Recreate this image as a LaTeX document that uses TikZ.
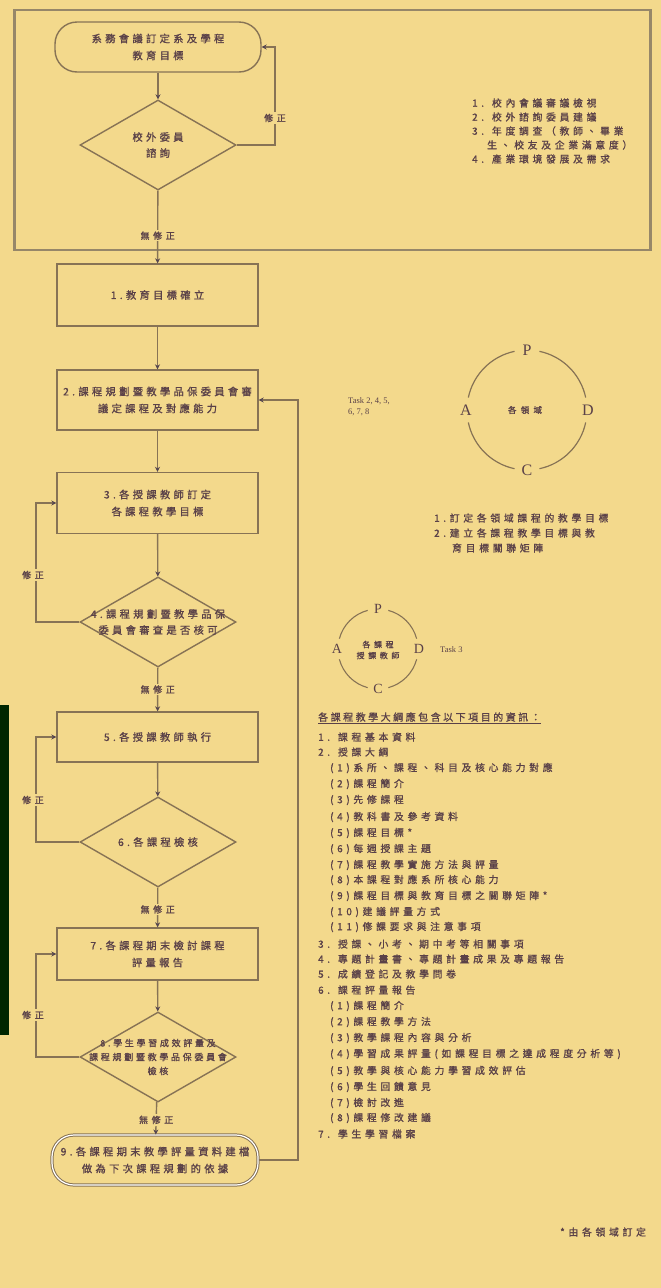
\documentclass[tikz,border=0pt]{standalone}
\usepackage{fontspec}
\setmainfont{Noto Sans CJK TC}
\newfontfamily\latinserif{Liberation Serif}
\usetikzlibrary{shapes.geometric,arrows.meta,calc}
\definecolor{bgc}{RGB}{243,217,140}
\definecolor{linec}{RGB}{135,115,85}
\definecolor{framec}{RGB}{150,135,105}
\definecolor{txtc}{RGB}{90,65,72}
\definecolor{arrc}{RGB}{85,70,80}
\newcommand{\lsp}[1]{\addfontfeatures{LetterSpace=#1,FakeBold=1.2}}
\begin{document}
\begin{tikzpicture}[x=1pt,y=-1pt,
  every node/.style={text=txtc},
  ffont/.style={font=\fontsize{10.3}{17}\selectfont\lsp{32}},
  proc/.style={draw=linec,line width=1.4pt,rectangle,minimum width=201pt,align=center,inner sep=2pt,ffont},
  term/.style={draw=linec,line width=1.4pt,rectangle,rounded corners=22pt,minimum width=206pt,minimum height=50pt,align=center,ffont},
  deci/.style={draw=linec,line width=1.4pt,diamond,minimum width=156pt,minimum height=90pt,inner sep=0pt},
  dtext/.style={align=center,font=\fontsize{10.3}{16}\selectfont\lsp{32}},
  arr/.style={draw=linec,line width=1.4pt,-{Stealth[length=5pt,width=5pt,color=arrc]}},
  conn/.style={draw=linec,line width=1.4pt},
  lbl/.style={fill=bgc,inner sep=1.5pt,font=\fontsize{9}{10}\selectfont\lsp{40}},
  rtxt/.style={anchor=west,inner sep=0pt,font=\fontsize{9.8}{12}\selectfont\lsp{38}},
  stxt/.style={anchor=west,inner sep=0pt,font=\fontsize{9.8}{14}\selectfont\lsp{38}},
  pdca/.style={font=\latinserif\fontsize{16}{16}\selectfont,text=txtc,inner sep=1pt},
  pdcas/.style={font=\latinserif\fontsize{14}{14}\selectfont,text=txtc,inner sep=1pt}
]
\useasboundingbox (0,0) rectangle (661,1288);
\fill[bgc] (0,0) rectangle (661,1288);
% dark strip at left edge
\fill[black!75!green!60!black] (0,705) rectangle (9,1035);
% outer frame
\node[draw=framec,line width=2.2pt,minimum width=636pt,minimum height=240pt,inner sep=0pt] (frame) at (332.5,130) {};

% top part
\node[term] (t0) at (158,47) {系務會議訂定系及學程\\教育目標};
\node[deci] (d0) at (158,145) {};
\node[dtext] (d0t) at (158,145) {校外委員\\諮詢};
\coordinate (lp0) at (275,0);
\draw[arr] (t0) -- (d0);
\draw[arr] (d0.east) -- (d0.east -| lp0) |- (t0.east);
\node[lbl] (m0) at (275,118) {修正};

\node[rtxt] (r1) at (472,103) {1. 校內會議審議檢視};
\node[rtxt] (r2) at (472,117) {2. 校外諮詢委員建議};
\node[rtxt] (r3) at (472,131) {3. 年度調查（教師、畢業};
\node[rtxt] (r4) at (487,145) {生、校友及企業滿意度）};
\node[rtxt] (r5) at (472,159) {4. 產業環境發展及需求};

% main flow
\node[proc,minimum height=62pt] (b1) at (157.5,295) {1.教育目標確立};
\node[proc,minimum height=60pt] (b2) at (157.5,400) {2.課程規劃暨教學品保委員會審\\議定課程及對應能力};
\node[proc,minimum height=61pt] (b3) at (157.5,503) {3.各授課教師訂定\\各課程教學目標};
\node[deci] (d4) at (158,622) {};
\node[dtext] (d4t) at (158,622) {4.課程規劃暨教學品保\\委員會審查是否核可};
\node[proc,minimum height=50pt] (b5) at (157.5,737) {5.各授課教師執行};
\node[deci] (d6) at (158,842) {};
\node[dtext] (d6t) at (158,842) {6.各課程檢核};
\node[proc,minimum height=52pt] (b7) at (157.5,954) {7.各課程期末檢討課程\\評量報告};
\node[deci] (d8) at (158,1057) {};
\node[dtext,font=\fontsize{9}{14}\selectfont\lsp{30}] (d8t) at (158,1057) {8.學生學習成效評量及\\課程規劃暨教學品保委員會\\檢核};
\node[term,double,double distance=1.2pt,line width=1pt] (t9) at (155,1160) {9.各課程期末教學評量資料建檔\\做為下次課程規劃的依據};

\draw[arr] (d0) -- node[lbl,pos=0.62] (m1) {無修正} (b1);
\draw[arr] (b1) -- (b2);
\draw[arr] (b2) -- (b3);
\draw[arr] (b3) -- (d4);
\draw[arr] (d4) -- node[lbl,pos=0.5] (m2) {無修正} (b5);
\draw[arr] (b5) -- (d6);
\draw[arr] (d6) -- node[lbl,pos=0.55] (m3) {無修正} (b7);
\draw[arr] (b7) -- (d8);
\draw[arr] (d8) -- node[lbl,pos=0.55] (m4) {無修正} (t9);

\coordinate (lx) at (36,0);
\coordinate (rx) at (298,0);
\draw[arr] (d4.west) -- (d4.west -| lx) |- (b3.west);
\node[lbl] (m5) at (33,575) {修正};
\draw[arr] (d6.west) -- (d6.west -| lx) |- (b5.west);
\node[lbl] (m6) at (33,800) {修正};
\draw[arr] (d8.west) -- (d8.west -| lx) |- (b7.west);
\node[lbl] (m7) at (33,1015) {修正};
\draw[arr] (t9.east) -- (t9.east -| rx) |- (b2.east);

% task notes
\node[anchor=west,inner sep=0pt,align=left,font=\latinserif\fontsize{8.5}{11}\selectfont] (task1) at (348,407) {Task 2, 4, 5,\\6, 7, 8};

% big PDCA
\coordinate (pc) at (527,410);
\node[pdca] (P1) at ($(pc)+(0,-60)$) {P};
\node[pdca] (D1) at ($(pc)+(61,0)$) {D};
\node[pdca] (C1) at ($(pc)+(0,60)$) {C};
\node[pdca] (A1) at ($(pc)+(-61,0)$) {A};
\draw[conn,line width=1.2pt] ($(pc)+(12:60)$) arc[start angle=12,end angle=78,radius=60];
\draw[conn,line width=1.2pt] ($(pc)+(102:60)$) arc[start angle=102,end angle=168,radius=60];
\draw[conn,line width=1.2pt] ($(pc)+(192:60)$) arc[start angle=192,end angle=258,radius=60];
\draw[conn,line width=1.2pt] ($(pc)+(282:60)$) arc[start angle=282,end angle=348,radius=60];
\node[font=\fontsize{8.5}{10}\selectfont\lsp{50}] (pcl) at (525,410) {各領域};

\node[rtxt] (n1) at (434,518) {1.訂定各領域課程的教學目標};
\node[rtxt] (n2) at (434,533) {2.建立各課程教學目標與教};
\node[rtxt] (n3) at (452,548) {育目標關聯矩陣};

% small PDCA
\coordinate (qc) at (378,649);
\node[pdcas] (P2) at ($(qc)+(0,-40)$) {P};
\node[pdcas] (D2) at ($(qc)+(41,0)$) {D};
\node[pdcas] (C2) at ($(qc)+(0,40)$) {C};
\node[pdcas] (A2) at ($(qc)+(-41,0)$) {A};
\draw[conn,line width=1.1pt] ($(qc)+(15:40)$) arc[start angle=15,end angle=75,radius=40];
\draw[conn,line width=1.1pt] ($(qc)+(105:40)$) arc[start angle=105,end angle=165,radius=40];
\draw[conn,line width=1.1pt] ($(qc)+(195:40)$) arc[start angle=195,end angle=255,radius=40];
\draw[conn,line width=1.1pt] ($(qc)+(285:40)$) arc[start angle=285,end angle=345,radius=40];
\node[align=center,font=\fontsize{8}{11}\selectfont\lsp{45}] (qcl) at (378,650) {各課程\\授課教師};
\node[anchor=west,inner sep=0pt,font=\latinserif\fontsize{8.5}{10}\selectfont] (task2) at (440,650) {Task 3};

% list
\node[rtxt,font=\fontsize{10}{12}\selectfont\lsp{25}] (h) at (318,718) {\underline{各課程教學大綱應包含以下項目的資訊：}};
\node[stxt] (l1) at (318,737) {1. 課程基本資料};
\node[stxt] (l2) at (318,752) {2. 授課大綱};
\node[stxt] (l3) at (330,768) {(1)系所、課程、科目及核心能力對應};
\node[stxt] (l4) at (330,784) {(2)課程簡介};
\node[stxt] (l5) at (330,800) {(3)先修課程};
\node[stxt] (l6) at (330,817) {(4)教科書及參考資料};
\node[stxt] (l7) at (330,833) {(5)課程目標*};
\node[stxt] (l8) at (330,849) {(6)每週授課主題};
\node[stxt] (l9) at (330,865) {(7)課程教學實施方法與評量};
\node[stxt] (l10) at (330,880) {(8)本課程對應系所核心能力};
\node[stxt] (l11) at (330,896) {(9)課程目標與教育目標之關聯矩陣*};
\node[stxt] (l12) at (330,912) {(10)建議評量方式};
\node[stxt] (l13) at (330,927) {(11)修課要求與注意事項};
\node[stxt] (l14) at (318,944) {3. 授課、小考、期中考等相關事項};
\node[stxt] (l15) at (318,959) {4. 專題計畫書、專題計畫成果及專題報告};
\node[stxt] (l16) at (318,974) {5. 成績登記及教學問卷};
\node[stxt] (l17) at (318,990) {6. 課程評量報告};
\node[stxt] (l18) at (330,1006) {(1)課程簡介};
\node[stxt] (l19) at (330,1022) {(2)課程教學方法};
\node[stxt] (l20) at (330,1038) {(3)教學課程內容與分析};
\node[stxt] (l21) at (330,1054) {(4)學習成果評量(如課程目標之達成程度分析等)};
\node[stxt] (l22) at (330,1071) {(5)教學與核心能力學習成效評估};
\node[stxt] (l23) at (330,1087) {(6)學生回饋意見};
\node[stxt] (l24) at (330,1103) {(7)檢討改進};
\node[stxt] (l25) at (330,1118) {(8)課程修改建議};
\node[stxt] (l26) at (318,1134) {7. 學生學習檔案};
\node[stxt] (foot) at (560,1232) {*由各領域訂定};
\end{tikzpicture}
\end{document}
